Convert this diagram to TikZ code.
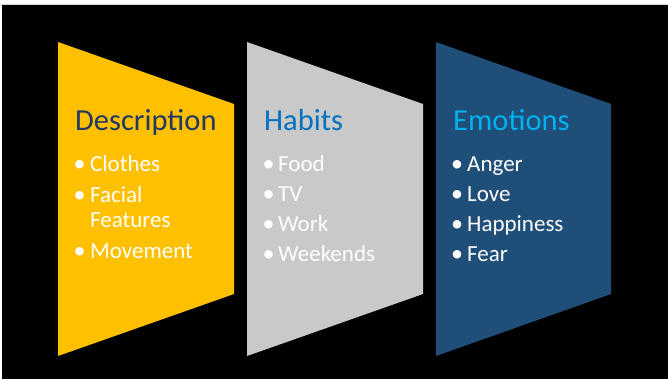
\documentclass[tikz,border=0pt]{standalone}
\usepackage{fontspec}
\setmainfont{Carlito}
\definecolor{panelY}{HTML}{FFC000}
\definecolor{panelG}{HTML}{C9C9C9}
\definecolor{panelB}{HTML}{1F4E79}
\definecolor{titleD}{HTML}{203864}
\definecolor{titleH}{HTML}{0070C0}
\definecolor{titleE}{HTML}{00B0F0}
\tikzset{
  paneltitle/.style={anchor=base west, inner sep=0pt, font=\fontsize{30.5}{30.5}\selectfont},
  bulletmark/.style={anchor=base west, inner sep=0pt, text=white, font=\fontsize{24}{24}\selectfont},
  itemtext/.style={anchor=base west, inner sep=0pt, text=white, font=\fontsize{23}{23}\selectfont},
}
\begin{document}
\begin{tikzpicture}[x=1pt,y=-1pt]
\useasboundingbox (0,0) rectangle (668,380);
\fill[white] (0,0) rectangle (668,380);
\fill[black!15] (0,4) rectangle (668,5);
\fill[black] (2,5) rectangle (668,379);
% panels
\fill[panelY] (58,42) -- (234,104) -- (234,294) -- (58,356) -- cycle;
\fill[panelG] (247,42) -- (423,104) -- (423,294) -- (247,356) -- cycle;
\fill[panelB] (436,42) -- (611,104) -- (611,294) -- (436,356) -- cycle;
% titles
\node[paneltitle, text=titleD] (t1) at (75,130) {Description};
\node[paneltitle, text=titleH] (t2) at (264,130) {Habits};
\node[paneltitle, text=titleE] (t3) at (453,130) {Emotions};
% Description items
\node[bulletmark] (d1b) at (73.5,171) {•};
\node[itemtext] (d1) at (90,171) {Clothes};
\node[bulletmark] (d2b) at (73.5,202.5) {•};
\node[itemtext] (d2) at (90,202.5) {Facial};
\node[itemtext] (d2x) at (90,227.5) {Features};
\node[bulletmark] (d3b) at (73.5,258.5) {•};
\node[itemtext] (d3) at (90,258.5) {Movement};
% Habits items
\node[bulletmark] (h1b) at (262.5,171) {•};
\node[itemtext] (h1) at (278,171) {Food};
\node[bulletmark] (h2b) at (262.5,201.5) {•};
\node[itemtext] (h2) at (278,201.5) {TV};
\node[bulletmark] (h3b) at (262.5,231.5) {•};
\node[itemtext] (h3) at (278,231.5) {Work};
\node[bulletmark] (h4b) at (262.5,261.5) {•};
\node[itemtext] (h4) at (278,261.5) {Weekends};
% Emotions items
\node[bulletmark] (e1b) at (451,171) {•};
\node[itemtext] (e1) at (467,171) {Anger};
\node[bulletmark] (e2b) at (451,201.5) {•};
\node[itemtext] (e2) at (467,201.5) {Love};
\node[bulletmark] (e3b) at (451,231.5) {•};
\node[itemtext] (e3) at (467,231.5) {Happiness};
\node[bulletmark] (e4b) at (451,261.5) {•};
\node[itemtext] (e4) at (467,261.5) {Fear};
\end{tikzpicture}
\end{document}
